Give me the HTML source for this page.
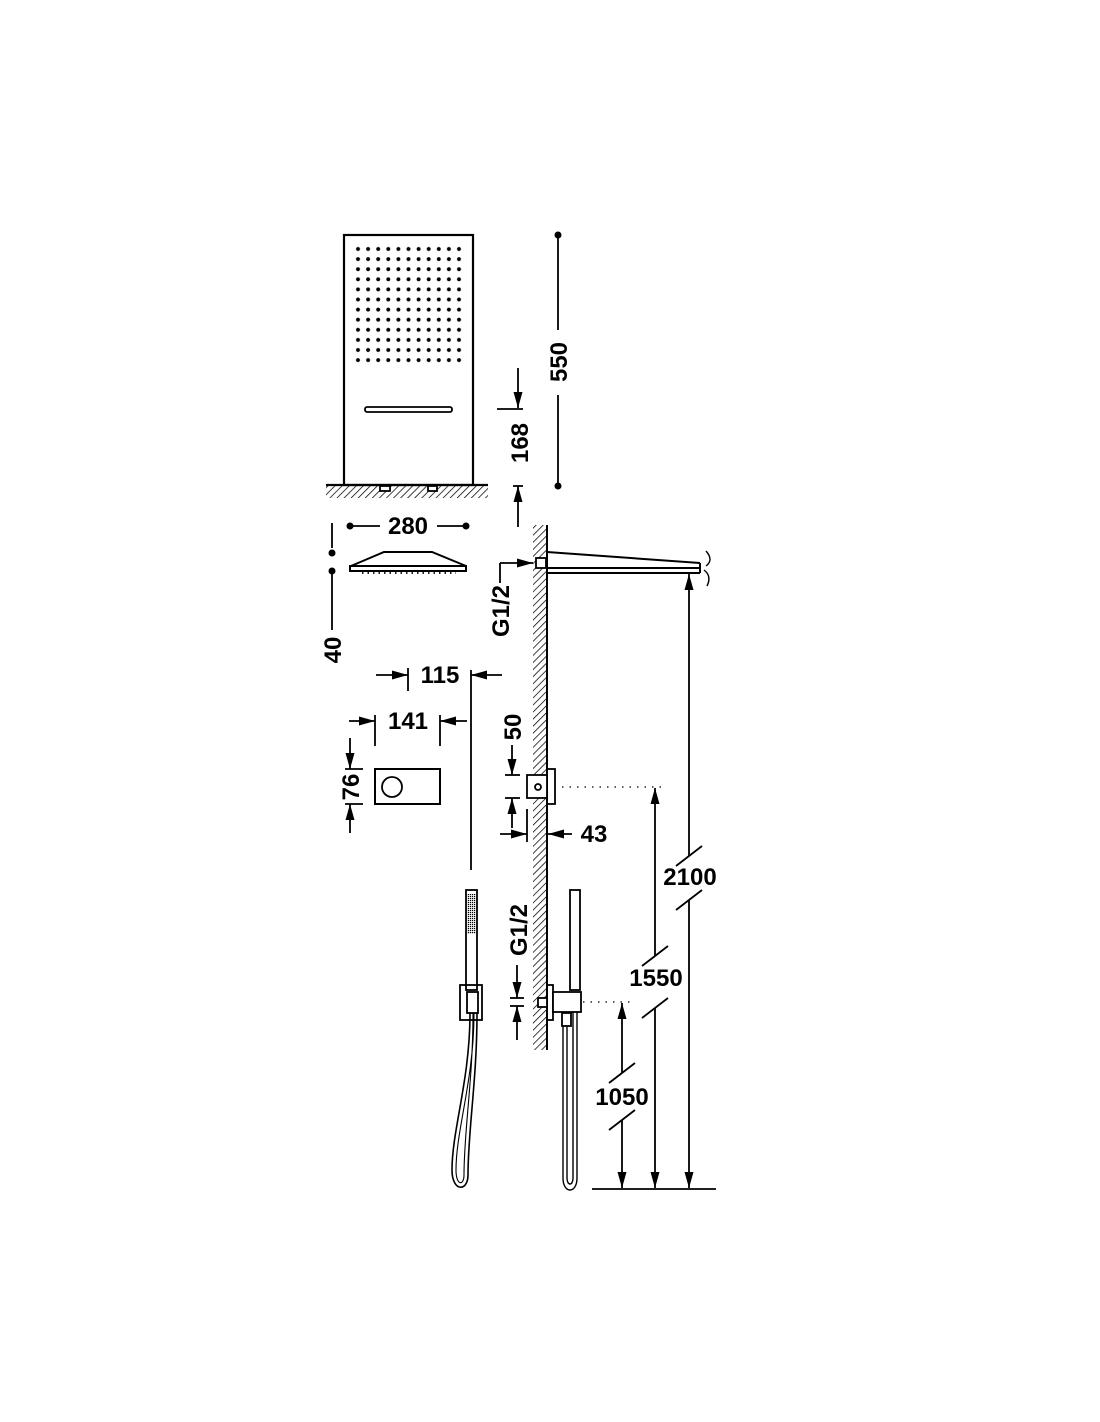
<!DOCTYPE html>
<html><head><meta charset="utf-8"><style>
html,body{margin:0;padding:0;background:#fff}
svg{display:block}
text{font-family:"Liberation Sans",sans-serif;font-weight:bold;font-size:24px;fill:#000}
</style></head><body>
<svg width="1100" height="1422" viewBox="0 0 1100 1422" xmlns="http://www.w3.org/2000/svg">
<defs>
<pattern id="h" width="5" height="5" patternUnits="userSpaceOnUse" patternTransform="rotate(45)">
<line x1="0" y1="0" x2="0" y2="5" stroke="#000" stroke-width="1.5"/>
</pattern>
<pattern id="d" x="353" y="244" width="10.1" height="10.1" patternUnits="userSpaceOnUse">
<circle cx="5" cy="5" r="2" fill="#000"/>
</pattern>
<pattern id="g" width="2" height="2" patternUnits="userSpaceOnUse"><rect width="1.2" height="1.2" fill="#000"/></pattern>
<marker id="ab" viewBox="0 0 10 10" refX="10" refY="5" markerWidth="16" markerHeight="9" orient="auto-start-reverse" markerUnits="userSpaceOnUse" preserveAspectRatio="none"><path d="M0,0 L10,5 L0,10z" fill="#000"/></marker>
</defs>
<g fill="none" stroke="#000" stroke-width="1.8">
<rect x="344" y="235" width="129" height="250" stroke-width="2.2"/>
<rect x="353" y="244" width="111" height="121" fill="url(#d)" stroke="none"/>
<rect x="365" y="407" width="87" height="5" rx="2"/>
<rect x="326" y="486" width="162" height="12" fill="url(#h)" stroke="none"/>
<line x1="326" y1="485" x2="488" y2="485" stroke-width="2.2"/>
<rect x="380" y="486" width="10" height="5" fill="#fff"/>
<rect x="428" y="486" width="9" height="5" fill="#fff"/>
<line x1="558" y1="235" x2="558" y2="330"/><line x1="558" y1="395" x2="558" y2="486"/>
<line x1="518" y1="368" x2="518" y2="408" marker-end="url(#ab)"/>
<line x1="497" y1="409" x2="523" y2="409"/>
<line x1="513" y1="486" x2="523" y2="486"/>
<line x1="518" y1="527" x2="518" y2="486" marker-end="url(#ab)"/>
<line x1="350" y1="526" x2="380" y2="526"/><line x1="437" y1="526" x2="466" y2="526"/>
<path d="M351,566 L384,552 L432,552 L466,566 Z" stroke-width="2"/>
<rect x="350" y="566" width="116" height="5" stroke-width="2"/>
<line x1="362" y1="573" x2="456" y2="573" stroke-dasharray="1.5 4"/>
<line x1="332" y1="523" x2="332" y2="548"/><line x1="332" y1="571" x2="332" y2="630"/>
<rect x="533" y="525" width="14" height="525" fill="url(#h)" stroke="none"/>
<line x1="547" y1="525" x2="547" y2="1050" stroke-width="2"/>
<path d="M547,552 L700,563 M547,568 L700,568 M547,573 L700,573 M700,563 L700,573" stroke-width="2"/>
<path d="M706,551 Q714,560 706,566 M704,570 Q712,576 707,586" stroke-width="1.4"/>
<rect x="536" y="558" width="10" height="10" fill="#fff"/>
<line x1="500" y1="563" x2="533" y2="563" marker-end="url(#ab)"/>
<line x1="500" y1="563" x2="500" y2="583"/>
<line x1="689" y1="856" x2="689" y2="574" marker-end="url(#ab)"/>
<line x1="689" y1="900" x2="689" y2="1188" marker-end="url(#ab)"/>
<line x1="676" y1="866" x2="702" y2="846"/><line x1="676" y1="910" x2="702" y2="890"/>
<rect x="547" y="769" width="8" height="35"/>
<rect x="527" y="775" width="20" height="23" fill="#fff"/>
<circle cx="538" cy="787" r="3"/>
<line x1="562" y1="787" x2="663" y2="787" stroke-dasharray="1.5 6" stroke-width="1.3"/>
<line x1="655" y1="956" x2="655" y2="788" marker-end="url(#ab)"/>
<line x1="655" y1="1008" x2="655" y2="1188" marker-end="url(#ab)"/>
<line x1="642" y1="966" x2="668" y2="946"/><line x1="642" y1="1018" x2="668" y2="998"/>
<line x1="512" y1="745" x2="512" y2="775" marker-end="url(#ab)"/>
<line x1="505" y1="775" x2="520" y2="775"/><line x1="505" y1="798" x2="520" y2="798"/>
<line x1="512" y1="828" x2="512" y2="798" marker-end="url(#ab)"/>
<line x1="500" y1="834" x2="527" y2="834" marker-end="url(#ab)"/>
<line x1="527" y1="809" x2="527" y2="842"/>
<line x1="572" y1="834" x2="548" y2="834" marker-end="url(#ab)"/>
<line x1="376" y1="675" x2="408" y2="675" marker-end="url(#ab)"/>
<line x1="408" y1="668" x2="408" y2="691"/>
<line x1="471" y1="670" x2="471" y2="870"/>
<line x1="502" y1="675" x2="471" y2="675" marker-end="url(#ab)"/>
<line x1="349" y1="721" x2="375" y2="721" marker-end="url(#ab)"/>
<line x1="375" y1="715" x2="375" y2="746"/><line x1="440" y1="715" x2="440" y2="746"/>
<line x1="467" y1="721" x2="440" y2="721" marker-end="url(#ab)"/>
<rect x="375" y="769" width="65" height="35" stroke-width="2"/>
<circle cx="392" cy="787" r="10"/>
<line x1="350" y1="738" x2="350" y2="769" marker-end="url(#ab)"/>
<line x1="345" y1="769" x2="363" y2="769"/><line x1="345" y1="804" x2="363" y2="804"/>
<line x1="350" y1="833" x2="350" y2="804" marker-end="url(#ab)"/>
<rect x="466" y="890" width="11" height="100"/>
<rect x="467" y="894" width="9" height="40" fill="url(#g)" stroke="none"/>
<rect x="460" y="985" width="22" height="35"/>
<rect x="467" y="992" width="11" height="21" fill="#fff"/>
<path d="M470,1013 C470,1080 452,1130 452,1170 C452,1192 468,1192 468,1175 C468,1130 477,1080 477,1013" stroke-width="1.6"/>
<path d="M474,1013 C474,1080 456,1130 456,1170 C456,1186 464,1186 464,1175 C464,1130 473,1080 473,1013" stroke-width="1.1"/>
<rect x="570" y="890" width="10" height="100"/>
<rect x="547" y="985" width="6" height="35"/>
<rect x="553" y="992" width="28" height="20" fill="#fff"/>
<rect x="538" y="998" width="9" height="9" fill="#fff"/>
<rect x="562" y="1013" width="9" height="13"/>
<path d="M563,1026 L563,1178 C563,1194 577,1194 577,1178 L577,1012 M567,1026 L567,1178 C567,1186 573,1186 573,1178 L573,1012" stroke-width="1.4"/>
<line x1="583" y1="1002" x2="630" y2="1002" stroke-dasharray="1.5 6" stroke-width="1.3"/>
<line x1="517" y1="965" x2="517" y2="998" marker-end="url(#ab)"/>
<line x1="510" y1="998" x2="524" y2="998"/><line x1="510" y1="1006" x2="524" y2="1006"/>
<line x1="517" y1="1040" x2="517" y2="1006" marker-end="url(#ab)"/>
<line x1="622" y1="1073" x2="622" y2="1003" marker-end="url(#ab)"/>
<line x1="622" y1="1120" x2="622" y2="1188" marker-end="url(#ab)"/>
<line x1="609" y1="1083" x2="635" y2="1063"/><line x1="609" y1="1130" x2="635" y2="1110"/>
<line x1="592" y1="1189" x2="716" y2="1189"/>
</g>
<g fill="#000">
<circle cx="558" cy="235" r="3.5"/><circle cx="558" cy="486" r="3.5"/>
<circle cx="350" cy="526" r="3.5"/><circle cx="466" cy="526" r="3.5"/>
<circle cx="332" cy="553" r="3.5"/><circle cx="332" cy="571" r="3.5"/>
</g>
<text transform="translate(567,362) rotate(-90)" text-anchor="middle">550</text>
<text transform="translate(528,443) rotate(-90)" text-anchor="middle">168</text>
<text x="408" y="534" text-anchor="middle">280</text>
<text transform="translate(341,650) rotate(-90)" text-anchor="middle">40</text>
<text transform="translate(509,611) rotate(-90)" text-anchor="middle">G1/2</text>
<text x="440" y="683" text-anchor="middle">115</text>
<text x="408" y="729" text-anchor="middle">141</text>
<text transform="translate(521,727) rotate(-90)" text-anchor="middle">50</text>
<text transform="translate(359,787) rotate(-90)" text-anchor="middle">76</text>
<text x="594" y="842" text-anchor="middle">43</text>
<text x="690" y="885" text-anchor="middle">2100</text>
<text x="656" y="986" text-anchor="middle">1550</text>
<text x="622" y="1105" text-anchor="middle">1050</text>
<text transform="translate(527,930) rotate(-90)" text-anchor="middle">G1/2</text>
</svg>
</body></html>
